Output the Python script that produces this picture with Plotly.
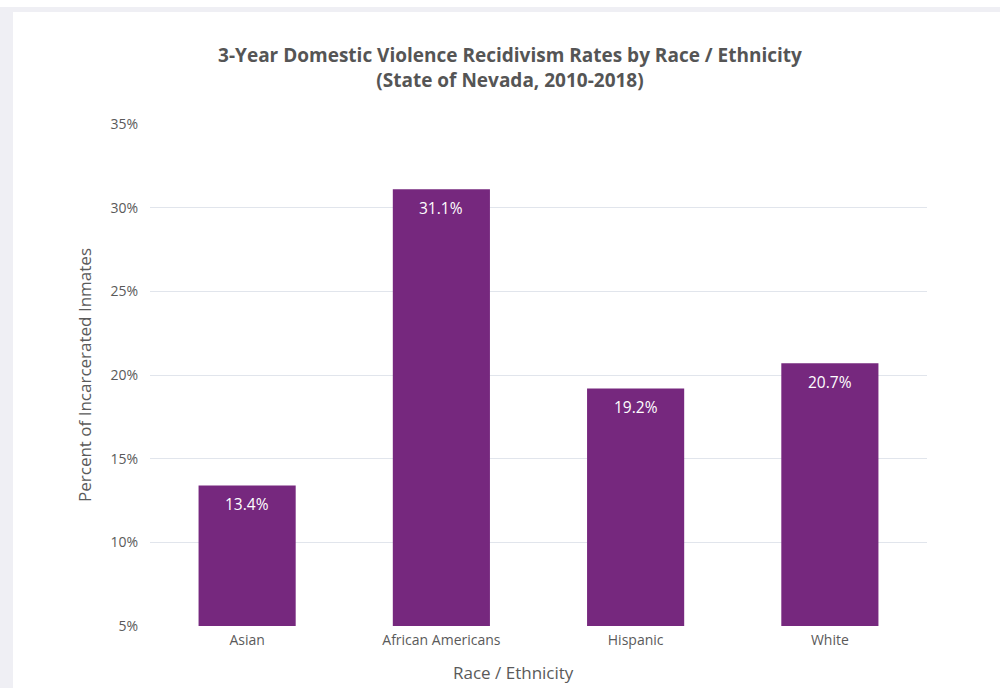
import plotly.graph_objects as go

# Recidivism rates by race / ethnicity (percent)
categories = ["Asian", "African Americans", "Hispanic", "White"]
rates = [13.4, 31.1, 19.2, 20.7]
y_ticks = [5, 10, 15, 20, 25, 30, 35]
y_tick_labels = [f"{v}%" for v in y_ticks]

FONT = "'Open Sans', Lato, sans-serif"
GREY_TEXT = "#5a5a5a"
FRAME = "#efeff4"

fig = go.Figure(
    go.Bar(
        x=categories,
        y=rates,
        marker=dict(color="#76287e", line=dict(width=0)),
        hoverinfo="skip",
    )
)

# value labels just inside the top of each bar
for cat, val in zip(categories, rates):
    fig.add_annotation(
        x=cat, y=val, xref="x", yref="y",
        text=f"{val:.1f}%",
        showarrow=False,
        yanchor="middle",
        yshift=-19,
        font=dict(color="white", size=15.5, family=FONT),
    )

# x-axis title, set slightly left of the plot centre
fig.add_annotation(
    x=(513 - 150) / 777, y=-(672 - 626) / 502, xref="paper", yref="paper",
    text="Race / Ethnicity", showarrow=False,
    xanchor="center", yanchor="middle",
    font=dict(size=17, color=GREY_TEXT, family=FONT),
)

fig.update_layout(
    width=1000,
    height=688,
    margin=dict(l=150, r=73, t=124, b=62),
    paper_bgcolor="white",
    plot_bgcolor="white",
    bargap=0.5,
    showlegend=False,
    font=dict(family=FONT, color=GREY_TEXT),
    title=dict(
        text="<b>3-Year Domestic Violence Recidivism Rates by Race / Ethnicity<br>(State of Nevada, 2010-2018)</b>",
        x=0.51,
        xanchor="center",
        y=1 - 62 / 688,
        yanchor="top",
        font=dict(size=19, color="#555555", family=FONT),
    ),
)

fig.update_xaxes(
    showgrid=False,
    showline=False,
    ticks="",
    ticklabelstandoff=4,
    tickfont=dict(size=14, color=GREY_TEXT),
)
fig.update_yaxes(
    range=[5, 35],
    tickvals=y_ticks,
    ticktext=y_tick_labels,
    showgrid=True,
    gridcolor="#e1e5ec",
    gridwidth=1,
    zeroline=False,
    showline=False,
    ticks="",
    ticklabelstandoff=11,
    tickfont=dict(size=14, color=GREY_TEXT),
    title=dict(text="Percent of Incarcerated Inmates", font=dict(size=17, color=GREY_TEXT), standoff=14),
)

# grey frame strips of the page (top and left)
fig.add_shape(type="rect", xref="paper", yref="paper",
              x0=-150 / 777, x1=(1000 - 150) / 777,
              y0=(626 - 12) / 502, y1=(626 - 7) / 502,
              fillcolor=FRAME, line=dict(width=0), layer="below")
fig.add_shape(type="rect", xref="paper", yref="paper",
              x0=-150 / 777, x1=(13 - 150) / 777,
              y0=-62 / 502, y1=(626 - 7) / 502,
              fillcolor=FRAME, line=dict(width=0), layer="below")

fig.write_html("out.html")
